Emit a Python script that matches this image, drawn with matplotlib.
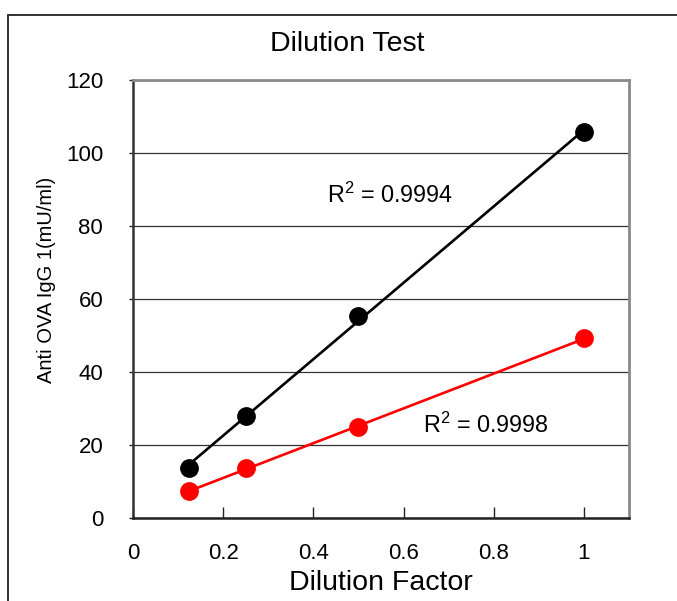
import numpy as np
import matplotlib
matplotlib.use("Agg")
import matplotlib.pyplot as plt
from matplotlib.patches import Rectangle

dilution = [0.125, 0.25, 0.5, 1.0]
series_black = [13.8, 28.0, 55.3, 105.7]
series_red = [7.4, 13.6, 24.9, 49.2]
r2_black = "0.9994"
r2_red = "0.9998"
xticks = [0, 0.2, 0.4, 0.6, 0.8, 1.0]
xtick_labels = ["0", "0.2", "0.4", "0.6", "0.8", "1"]
yticks = [0, 20, 40, 60, 80, 100, 120]

FONT = ['Liberation Sans', 'DejaVu Sans']
plt.rcParams['font.family'] = FONT
plt.rcParams['mathtext.fontset'] = 'custom'
plt.rcParams['mathtext.rm'] = 'Liberation Sans'
plt.rcParams['mathtext.it'] = 'Liberation Sans'

W, H = 677, 601
fig = plt.figure(figsize=(W / 100, H / 100), dpi=100)
L, R, B, T = 133, 629, 518, 80
ax = fig.add_axes([L / W, 1 - B / H, (R - L) / W, (B - T) / H])

# figure border (left and top visible)
fig.patches.append(Rectangle((8 / W, -0.2), 1.5, 1.2 - 15 / H, transform=fig.transFigure,
                             fill=False, edgecolor='#222222', linewidth=1.3, clip_on=False))

ax.set_xlim(0, 1.1)
ax.set_ylim(0, 120)
ax.set_yticks(yticks)
ax.set_xticks(xticks)
ax.set_xticklabels(xtick_labels)
ax.yaxis.grid(True, color='#333333', linewidth=0.9)
ax.set_axisbelow(True)

for s in ['top', 'right']:
    ax.spines[s].set_color('#8a8a8a')
    ax.spines[s].set_linewidth(2.0)
ax.spines['left'].set_color('#333333')
ax.spines['left'].set_linewidth(1.8)
ax.spines['bottom'].set_color('#222222')
ax.spines['bottom'].set_linewidth(1.8)

ax.tick_params(axis='x', direction='in', length=8, width=1, pad=18, colors='#222222')
ax.tick_params(axis='y', direction='out', length=3, width=1, pad=18.5, colors='#222222')
for lab in ax.get_xticklabels() + ax.get_yticklabels():
    lab.set_fontsize(16)
    lab.set_color('black')

x = np.array(dilution)
for ys, col in [(series_black, 'black'), (series_red, '#ff0000')]:
    p = np.polyfit(x, np.array(ys), 1)
    xx = np.array([x.min(), x.max()])
    ax.plot(xx, np.polyval(p, xx), color=col, linewidth=1.9, zorder=2)
    ax.plot(x, ys, 'o', color=col, markersize=12.5, zorder=3, clip_on=False)

ax.text(0.431, 88.4, "R$^{2}$ = " + r2_black, fontsize=16.8, va='center', ha='left')
ax.text(0.644, 25.3, "R$^{2}$ = " + r2_red, fontsize=16.8, va='center', ha='left')

fig.text(347 / W, 1 - 44 / H, "Dilution Test", fontsize=20.5, ha='center', va='center')
fig.text(381 / W, 1 - 583 / H, "Dilution Factor", fontsize=20.5, ha='center', va='center')
fig.text(46 / W, 1 - 280 / H, "Anti OVA IgG 1(mU/ml)", fontsize=14.5,
         rotation=90, ha='center', va='center')

fig.savefig("out.png", dpi=100)
